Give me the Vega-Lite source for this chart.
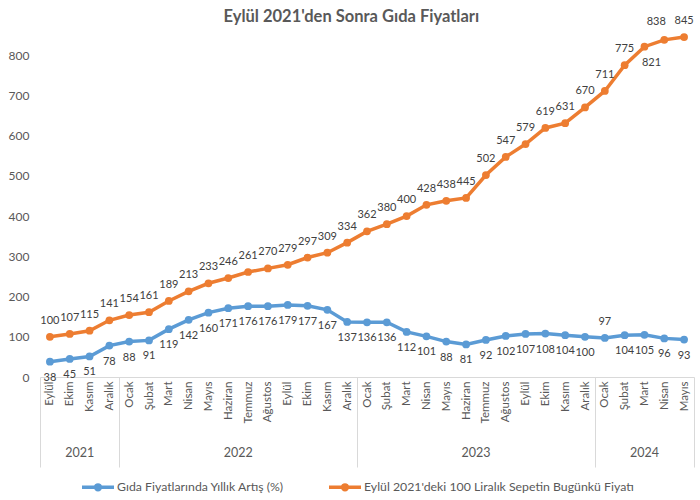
{
  "$schema": "https://vega.github.io/schema/vega-lite/v6.json",
  "width": 654,
  "height": 350,
  "autosize": "none",
  "padding": {"left": 40, "top": 27, "right": 6, "bottom": 123},
  "background": "white",
  "title": {
    "text": "Eylül 2021'den Sonra Gıda Fiyatları",
    "font": "Lato",
    "fontSize": 16.5,
    "fontWeight": "bold",
    "color": "#595959",
    "anchor": "middle",
    "frame": "bounds",
    "offset": 5,
    "dy": 15
  },
  "config": {
    "view": {"stroke": null},
    "font": "Lato"
  },
  "data": {
    "values": [
      {"idx":0,"donem":"Eylül 2021","yil":"2021","seri":"Gıda Fiyatlarında Yıllık Artış (%)","deger":38},
      {"idx":0,"donem":"Eylül 2021","yil":"2021","seri":"Eylül 2021'deki 100 Liralık Sepetin Bugünkü  Fiyatı","deger":100},
      {"idx":1,"donem":"Ekim 2021","yil":"2021","seri":"Gıda Fiyatlarında Yıllık Artış (%)","deger":45},
      {"idx":1,"donem":"Ekim 2021","yil":"2021","seri":"Eylül 2021'deki 100 Liralık Sepetin Bugünkü  Fiyatı","deger":107},
      {"idx":2,"donem":"Kasım 2021","yil":"2021","seri":"Gıda Fiyatlarında Yıllık Artış (%)","deger":51},
      {"idx":2,"donem":"Kasım 2021","yil":"2021","seri":"Eylül 2021'deki 100 Liralık Sepetin Bugünkü  Fiyatı","deger":115},
      {"idx":3,"donem":"Aralık 2021","yil":"2021","seri":"Gıda Fiyatlarında Yıllık Artış (%)","deger":78},
      {"idx":3,"donem":"Aralık 2021","yil":"2021","seri":"Eylül 2021'deki 100 Liralık Sepetin Bugünkü  Fiyatı","deger":141},
      {"idx":4,"donem":"Ocak 2022","yil":"2022","seri":"Gıda Fiyatlarında Yıllık Artış (%)","deger":88},
      {"idx":4,"donem":"Ocak 2022","yil":"2022","seri":"Eylül 2021'deki 100 Liralık Sepetin Bugünkü  Fiyatı","deger":154},
      {"idx":5,"donem":"Şubat 2022","yil":"2022","seri":"Gıda Fiyatlarında Yıllık Artış (%)","deger":91},
      {"idx":5,"donem":"Şubat 2022","yil":"2022","seri":"Eylül 2021'deki 100 Liralık Sepetin Bugünkü  Fiyatı","deger":161},
      {"idx":6,"donem":"Mart 2022","yil":"2022","seri":"Gıda Fiyatlarında Yıllık Artış (%)","deger":119},
      {"idx":6,"donem":"Mart 2022","yil":"2022","seri":"Eylül 2021'deki 100 Liralık Sepetin Bugünkü  Fiyatı","deger":189},
      {"idx":7,"donem":"Nisan 2022","yil":"2022","seri":"Gıda Fiyatlarında Yıllık Artış (%)","deger":142},
      {"idx":7,"donem":"Nisan 2022","yil":"2022","seri":"Eylül 2021'deki 100 Liralık Sepetin Bugünkü  Fiyatı","deger":213},
      {"idx":8,"donem":"Mayıs 2022","yil":"2022","seri":"Gıda Fiyatlarında Yıllık Artış (%)","deger":160},
      {"idx":8,"donem":"Mayıs 2022","yil":"2022","seri":"Eylül 2021'deki 100 Liralık Sepetin Bugünkü  Fiyatı","deger":233},
      {"idx":9,"donem":"Haziran 2022","yil":"2022","seri":"Gıda Fiyatlarında Yıllık Artış (%)","deger":171},
      {"idx":9,"donem":"Haziran 2022","yil":"2022","seri":"Eylül 2021'deki 100 Liralık Sepetin Bugünkü  Fiyatı","deger":246},
      {"idx":10,"donem":"Temmuz 2022","yil":"2022","seri":"Gıda Fiyatlarında Yıllık Artış (%)","deger":176},
      {"idx":10,"donem":"Temmuz 2022","yil":"2022","seri":"Eylül 2021'deki 100 Liralık Sepetin Bugünkü  Fiyatı","deger":261},
      {"idx":11,"donem":"Ağustos 2022","yil":"2022","seri":"Gıda Fiyatlarında Yıllık Artış (%)","deger":176},
      {"idx":11,"donem":"Ağustos 2022","yil":"2022","seri":"Eylül 2021'deki 100 Liralık Sepetin Bugünkü  Fiyatı","deger":270},
      {"idx":12,"donem":"Eylül 2022","yil":"2022","seri":"Gıda Fiyatlarında Yıllık Artış (%)","deger":179},
      {"idx":12,"donem":"Eylül 2022","yil":"2022","seri":"Eylül 2021'deki 100 Liralık Sepetin Bugünkü  Fiyatı","deger":279},
      {"idx":13,"donem":"Ekim 2022","yil":"2022","seri":"Gıda Fiyatlarında Yıllık Artış (%)","deger":177},
      {"idx":13,"donem":"Ekim 2022","yil":"2022","seri":"Eylül 2021'deki 100 Liralık Sepetin Bugünkü  Fiyatı","deger":297},
      {"idx":14,"donem":"Kasım 2022","yil":"2022","seri":"Gıda Fiyatlarında Yıllık Artış (%)","deger":167},
      {"idx":14,"donem":"Kasım 2022","yil":"2022","seri":"Eylül 2021'deki 100 Liralık Sepetin Bugünkü  Fiyatı","deger":309},
      {"idx":15,"donem":"Aralık 2022","yil":"2022","seri":"Gıda Fiyatlarında Yıllık Artış (%)","deger":137},
      {"idx":15,"donem":"Aralık 2022","yil":"2022","seri":"Eylül 2021'deki 100 Liralık Sepetin Bugünkü  Fiyatı","deger":334},
      {"idx":16,"donem":"Ocak 2023","yil":"2023","seri":"Gıda Fiyatlarında Yıllık Artış (%)","deger":136},
      {"idx":16,"donem":"Ocak 2023","yil":"2023","seri":"Eylül 2021'deki 100 Liralık Sepetin Bugünkü  Fiyatı","deger":362},
      {"idx":17,"donem":"Şubat 2023","yil":"2023","seri":"Gıda Fiyatlarında Yıllık Artış (%)","deger":136},
      {"idx":17,"donem":"Şubat 2023","yil":"2023","seri":"Eylül 2021'deki 100 Liralık Sepetin Bugünkü  Fiyatı","deger":380},
      {"idx":18,"donem":"Mart 2023","yil":"2023","seri":"Gıda Fiyatlarında Yıllık Artış (%)","deger":112},
      {"idx":18,"donem":"Mart 2023","yil":"2023","seri":"Eylül 2021'deki 100 Liralık Sepetin Bugünkü  Fiyatı","deger":400},
      {"idx":19,"donem":"Nisan 2023","yil":"2023","seri":"Gıda Fiyatlarında Yıllık Artış (%)","deger":101},
      {"idx":19,"donem":"Nisan 2023","yil":"2023","seri":"Eylül 2021'deki 100 Liralık Sepetin Bugünkü  Fiyatı","deger":428},
      {"idx":20,"donem":"Mayıs 2023","yil":"2023","seri":"Gıda Fiyatlarında Yıllık Artış (%)","deger":88},
      {"idx":20,"donem":"Mayıs 2023","yil":"2023","seri":"Eylül 2021'deki 100 Liralık Sepetin Bugünkü  Fiyatı","deger":438},
      {"idx":21,"donem":"Haziran 2023","yil":"2023","seri":"Gıda Fiyatlarında Yıllık Artış (%)","deger":81},
      {"idx":21,"donem":"Haziran 2023","yil":"2023","seri":"Eylül 2021'deki 100 Liralık Sepetin Bugünkü  Fiyatı","deger":445},
      {"idx":22,"donem":"Temmuz 2023","yil":"2023","seri":"Gıda Fiyatlarında Yıllık Artış (%)","deger":92},
      {"idx":22,"donem":"Temmuz 2023","yil":"2023","seri":"Eylül 2021'deki 100 Liralık Sepetin Bugünkü  Fiyatı","deger":502},
      {"idx":23,"donem":"Ağustos 2023","yil":"2023","seri":"Gıda Fiyatlarında Yıllık Artış (%)","deger":102},
      {"idx":23,"donem":"Ağustos 2023","yil":"2023","seri":"Eylül 2021'deki 100 Liralık Sepetin Bugünkü  Fiyatı","deger":547},
      {"idx":24,"donem":"Eylül 2023","yil":"2023","seri":"Gıda Fiyatlarında Yıllık Artış (%)","deger":107},
      {"idx":24,"donem":"Eylül 2023","yil":"2023","seri":"Eylül 2021'deki 100 Liralık Sepetin Bugünkü  Fiyatı","deger":579},
      {"idx":25,"donem":"Ekim 2023","yil":"2023","seri":"Gıda Fiyatlarında Yıllık Artış (%)","deger":108},
      {"idx":25,"donem":"Ekim 2023","yil":"2023","seri":"Eylül 2021'deki 100 Liralık Sepetin Bugünkü  Fiyatı","deger":619},
      {"idx":26,"donem":"Kasım 2023","yil":"2023","seri":"Gıda Fiyatlarında Yıllık Artış (%)","deger":104},
      {"idx":26,"donem":"Kasım 2023","yil":"2023","seri":"Eylül 2021'deki 100 Liralık Sepetin Bugünkü  Fiyatı","deger":631},
      {"idx":27,"donem":"Aralık 2023","yil":"2023","seri":"Gıda Fiyatlarında Yıllık Artış (%)","deger":100},
      {"idx":27,"donem":"Aralık 2023","yil":"2023","seri":"Eylül 2021'deki 100 Liralık Sepetin Bugünkü  Fiyatı","deger":670},
      {"idx":28,"donem":"Ocak 2024","yil":"2024","seri":"Gıda Fiyatlarında Yıllık Artış (%)","deger":97},
      {"idx":28,"donem":"Ocak 2024","yil":"2024","seri":"Eylül 2021'deki 100 Liralık Sepetin Bugünkü  Fiyatı","deger":711},
      {"idx":29,"donem":"Şubat 2024","yil":"2024","seri":"Gıda Fiyatlarında Yıllık Artış (%)","deger":104},
      {"idx":29,"donem":"Şubat 2024","yil":"2024","seri":"Eylül 2021'deki 100 Liralık Sepetin Bugünkü  Fiyatı","deger":775},
      {"idx":30,"donem":"Mart 2024","yil":"2024","seri":"Gıda Fiyatlarında Yıllık Artış (%)","deger":105},
      {"idx":30,"donem":"Mart 2024","yil":"2024","seri":"Eylül 2021'deki 100 Liralık Sepetin Bugünkü  Fiyatı","deger":821},
      {"idx":31,"donem":"Nisan 2024","yil":"2024","seri":"Gıda Fiyatlarında Yıllık Artış (%)","deger":96},
      {"idx":31,"donem":"Nisan 2024","yil":"2024","seri":"Eylül 2021'deki 100 Liralık Sepetin Bugünkü  Fiyatı","deger":838},
      {"idx":32,"donem":"Mayıs 2024","yil":"2024","seri":"Gıda Fiyatlarında Yıllık Artış (%)","deger":93},
      {"idx":32,"donem":"Mayıs 2024","yil":"2024","seri":"Eylül 2021'deki 100 Liralık Sepetin Bugünkü  Fiyatı","deger":845}
    ]
  },
  "layer": [
    {
      "encoding": {
        "x": {
          "field": "donem",
          "type": "ordinal",
          "sort": null,
          "scale": {"type": "band", "paddingInner": 0, "paddingOuter": 0},
          "axis": {
            "title": null,
            "labelExpr": "datum.value ? split(datum.value, ' ')[0] : ''",
            "labelAngle": 270,
            "labelAlign": "right",
            "labelBaseline": "middle",
            "labelFont": "Lato",
            "labelFontSize": 11.5,
            "labelColor": "#595959",
            "labelPadding": -86,
            "domainColor": "#d9d9d9",
            "domainWidth": 1,
            "tickBand": "extent",
            "tickSize": 90,
            "tickWidth": 1,
            "tickColor": {
              "condition": {"test": "!datum.value || indexof(datum.value, 'Aralık') == 0 || datum.value == 'Mayıs 2024'", "value": "#d9d9d9"},
              "value": "transparent"
            },
            "grid": false
          }
        },
        "y": {
          "field": "deger",
          "type": "quantitative",
          "scale": {"domain": [0, 870], "nice": false},
          "axis": {
            "title": null,
            "values": [0, 100, 200, 300, 400, 500, 600, 700, 800],
            "grid": false,
            "domain": false,
            "ticks": false,
            "labelPadding": 11,
            "labelFont": "Lato",
            "labelFontSize": 12,
            "labelColor": "#595959"
          }
        }
      },
      "layer": [
        {
          "mark": {"type": "line", "strokeWidth": 3.5, "point": {"filled": true, "size": 60}},
          "encoding": {
            "color": {
              "field": "seri",
              "type": "nominal",
              "scale": {
                "domain": ["Gıda Fiyatlarında Yıllık Artış (%)", "Eylül 2021'deki 100 Liralık Sepetin Bugünkü  Fiyatı"],
                "range": ["#5B9BD5", "#ED7D31"]
              },
              "legend": {
                "title": null,
                "orient": "none",
                "legendX": 40,
                "legendY": 442,
                "direction": "horizontal",
                "symbolType": "M-1,0L1,0M-0.15,0A0.15,0.15 0 1,0 0.15,0A0.15,0.15 0 1,0 -0.15,0",
                "symbolSize": 1024,
                "symbolStrokeWidth": 3.5,
                "labelFont": "Lato",
                "labelFontSize": 12.3,
                "labelColor": "#595959",
                "columnPadding": 37,
                "labelOffset": 1,
                "labelLimit": 400
              }
            }
          }
        },
        {
          "transform": [{"filter": "datum.seri != 'Gıda Fiyatlarında Yıllık Artış (%)' && datum.idx != 30 && datum.idx != 31"}],
          "mark": {"type": "text", "dy": -16, "font": "Lato", "fontSize": 11, "color": "#404040"},
          "encoding": {"text": {"field": "deger", "type": "quantitative"}}
        },
        {
          "transform": [{"filter": "datum.seri != 'Gıda Fiyatlarında Yıllık Artış (%)' && datum.idx == 30"}],
          "mark": {"type": "text", "dy": 16, "dx": 7, "font": "Lato", "fontSize": 11, "color": "#404040"},
          "encoding": {"text": {"field": "deger", "type": "quantitative"}}
        },
        {
          "transform": [{"filter": "datum.seri != 'Gıda Fiyatlarında Yıllık Artış (%)' && datum.idx == 31"}],
          "mark": {"type": "text", "dy": -18, "dx": -8, "font": "Lato", "fontSize": 11, "color": "#404040"},
          "encoding": {"text": {"field": "deger", "type": "quantitative"}}
        },
        {
          "transform": [{"filter": "datum.seri == 'Gıda Fiyatlarında Yıllık Artış (%)' && datum.idx != 28"}],
          "mark": {"type": "text", "dy": 16, "font": "Lato", "fontSize": 11, "color": "#404040"},
          "encoding": {"text": {"field": "deger", "type": "quantitative"}}
        },
        {
          "transform": [{"filter": "datum.seri == 'Gıda Fiyatlarında Yıllık Artış (%)' && datum.idx == 28"}],
          "mark": {"type": "text", "dy": -16, "font": "Lato", "fontSize": 11, "color": "#404040"},
          "encoding": {"text": {"field": "deger", "type": "quantitative"}}
        }
      ]
    },
    {
      "transform": [{"aggregate": [{"op": "mean", "field": "idx", "as": "orta"}], "groupby": ["yil"]}],
      "mark": {"type": "text", "font": "Lato", "fontSize": 12.5, "color": "#595959", "baseline": "middle"},
      "encoding": {
        "x": {"field": "orta", "type": "quantitative", "scale": {"domain": [-0.5, 32.5], "nice": false, "zero": false}, "axis": null},
        "y": {"value": 426},
        "text": {"field": "yil", "type": "nominal"}
      }
    }
  ],
  "resolve": {"scale": {"x": "independent"}}
}
